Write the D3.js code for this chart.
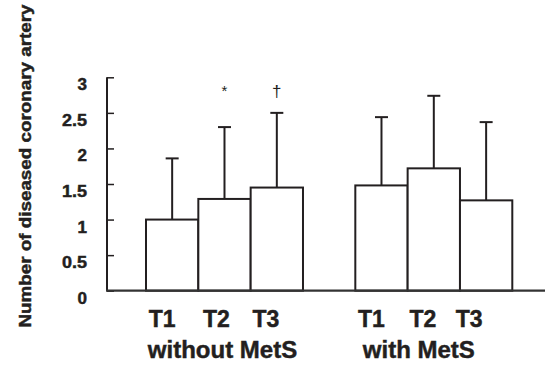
<!DOCTYPE html>
<html>
<head>
<meta charset="utf-8">
<script src="https://cdn.jsdelivr.net/npm/d3@7"></script>
<style>
  body { margin: 0; background: #fff; }
  text { font-family: "Liberation Sans", Arial, sans-serif; fill: #231f20; }
  text.heavy { stroke: #231f20; stroke-width: 0.45; }
</style>
</head>
<body>
<div class="canvas"></div>
<script>
const svgWidth = 545;
const svgHeight = 365;

// Data:
const groups = ['without MetS', 'with MetS'];
const tertiles = ['T1', 'T2', 'T3'];
const meanWithout = [1.0, 1.29, 1.45];
const sdWithout = [0.86, 1.01, 1.05];
const meanWith = [1.48, 1.72, 1.27];
const sdWith = [0.96, 1.02, 1.10];
const marks = ['', '*', '\u2020'];
const yTicks = [0, 0.5, 1, 1.5, 2, 2.5, 3];
const yTitle = 'Number of diseased coronary artery';

// 7 slots: 3 bars, gap, 3 bars
const bars = [
  ...tertiles.map((t, i) => ({ slot: i, label: t, mean: meanWithout[i], sd: sdWithout[i], mark: marks[i] })),
  ...tertiles.map((t, i) => ({ slot: i + 4, label: t, mean: meanWith[i], sd: sdWith[i], mark: '' }))
];
const labelShift = [-10, -8, -11];

const svg = d3.select('.canvas')
  .append('svg')
    .attr('width', svgWidth)
    .attr('height', svgHeight);

// Scale setup:
const x = d3.scaleBand().domain(d3.range(7)).range([146, 512.3]).padding(0);
const y = d3.scaleLinear().domain([0, 3]).range([290.7, 77.3]);
const axisX = 107;

// Y axis (ticks pointing inward)
const yAxis = d3.axisRight(y).tickValues(yTicks).tickSize(7).tickFormat('');
const yAxisGroup = svg.append('g')
  .attr('transform', `translate(${axisX}, 0)`)
  .call(yAxis);
yAxisGroup.select('.domain').remove();
yAxisGroup.selectAll('.tick line').attr('stroke', '#231f20').attr('stroke-width', 1.5);
svg.append('line')
  .attr('x1', axisX).attr('x2', axisX)
  .attr('y1', y(3)).attr('y2', y(0))
  .attr('stroke', '#231f20').attr('stroke-width', 2);

svg.selectAll('.ytick-label')
  .data(yTicks)
  .join('text')
    .attr('class', 'ytick-label heavy')
    .attr('x', 87)
    .attr('y', d => y(d) + 13)
    .attr('text-anchor', 'end')
    .attr('font-size', 16)
    .attr('font-weight', 'bold')
    .attr('textLength', d => String(d).length > 1 ? 25 : 9.5)
    .attr('lengthAdjust', 'spacingAndGlyphs')
    .text(d => d);

// Bars
svg.selectAll('.bar')
  .data(bars)
  .join('rect')
    .attr('class', 'bar')
    .attr('x', d => x(d.slot))
    .attr('y', d => y(d.mean))
    .attr('width', x.bandwidth())
    .attr('height', d => y(0) - y(d.mean))
    .attr('fill', '#fff')
    .attr('stroke', '#231f20')
    .attr('stroke-width', 2);

// Error bars
const cx = d => x(d.slot) + x.bandwidth() / 2;
svg.selectAll('.err')
  .data(bars)
  .join('line')
    .attr('class', 'err')
    .attr('x1', cx).attr('x2', cx)
    .attr('y1', d => y(d.mean))
    .attr('y2', d => y(d.mean + d.sd))
    .attr('stroke', '#231f20')
    .attr('stroke-width', 2);
svg.selectAll('.cap')
  .data(bars)
  .join('line')
    .attr('class', 'cap')
    .attr('x1', d => cx(d) - 6.5).attr('x2', d => cx(d) + 6.5)
    .attr('y1', d => y(d.mean + d.sd))
    .attr('y2', d => y(d.mean + d.sd))
    .attr('stroke', '#231f20')
    .attr('stroke-width', 2);

// Baseline
svg.append('line')
  .attr('x1', axisX - 1).attr('x2', svgWidth)
  .attr('y1', y(0)).attr('y2', y(0))
  .attr('stroke', '#333').attr('stroke-width', 2.2);

// Significance marks
svg.selectAll('.mark')
  .data(bars.filter(d => d.mark))
  .join('text')
    .attr('class', 'mark')
    .attr('x', cx)
    .attr('y', d => d.mark === '*' ? 96 : 97)
    .attr('text-anchor', 'middle')
    .attr('font-size', d => d.mark === '*' ? 15 : 17)
    .text(d => d.mark);

// X labels
svg.selectAll('.xlabel')
  .data(bars)
  .join('text')
    .attr('class', 'xlabel heavy')
    .attr('x', d => cx(d) + labelShift[d.slot % 4] - (d.slot > 3 ? (d.slot - 4) * 3 : 0))
    .attr('y', 327)
    .attr('text-anchor', 'middle')
    .attr('font-size', 23)
    .attr('font-weight', 'bold')
    .text(d => d.label);

svg.selectAll('.group-label')
  .data(groups)
  .join('text')
    .attr('class', 'group-label heavy')
    .attr('x', (d, i) => (x(i * 4) + x(i * 4 + 2) + x.bandwidth()) / 2 - (i ? 15 : 2))
    .attr('y', 358)
    .attr('text-anchor', 'middle')
    .attr('font-size', 24)
    .attr('font-weight', 'bold')
    .text(d => d);

// Y title
svg.append('text')
  .attr('class', 'heavy')
  .attr('transform', 'translate(31, 166) rotate(-90)')
  .attr('text-anchor', 'middle')
  .attr('font-size', 17)
  .attr('font-weight', 'bold')
  .attr('textLength', 323)
  .attr('lengthAdjust', 'spacingAndGlyphs')
  .text(yTitle);
</script>
</body>
</html>
